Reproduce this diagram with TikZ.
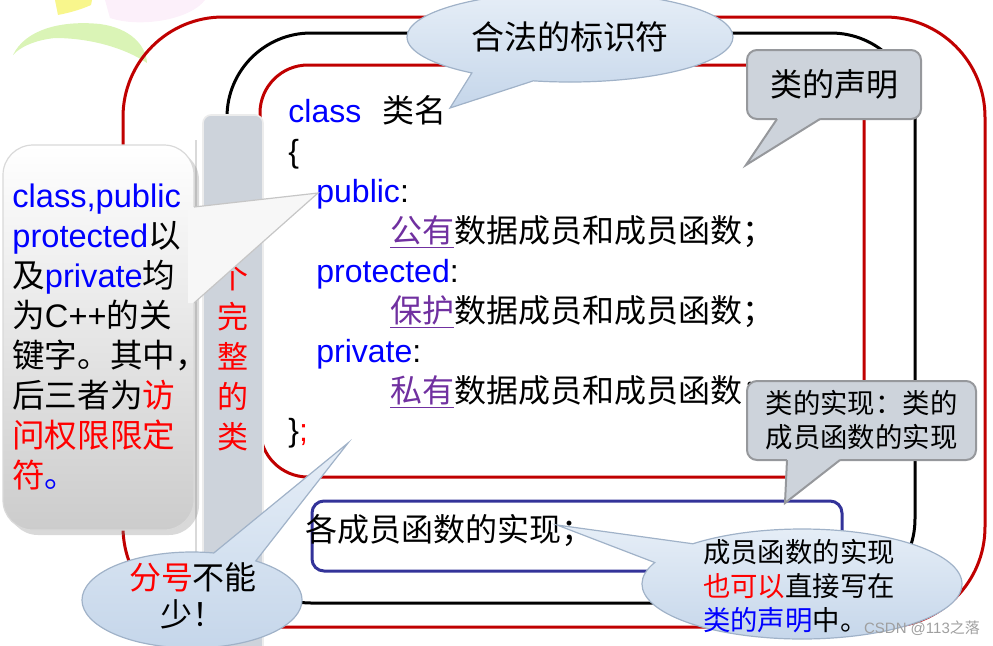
\documentclass[tikz,border=0pt]{standalone}
\usepackage{fontspec}
\setmainfont{Liberation Sans}
\newfontfamily\zhfont{Noto Sans CJK SC}
\usetikzlibrary{shapes.callouts, shadows}
\definecolor{darkred}{RGB}{192,0,0}
\definecolor{navyline}{RGB}{51,51,153}
\definecolor{kwblue}{RGB}{0,0,255}
\definecolor{accred}{RGB}{255,0,0}
\definecolor{purp}{RGB}{112,48,160}
\definecolor{barfill}{RGB}{205,211,219}
\definecolor{tipgray}{RGB}{205,211,219}
\definecolor{tipedge}{RGB}{150,152,156}
\definecolor{bubtop}{RGB}{230,238,247}
\definecolor{bubbot}{RGB}{197,214,234}
\definecolor{bubedge}{RGB}{160,178,200}
\definecolor{leafgreen}{RGB}{218,244,182}
\definecolor{leafyellow}{RGB}{248,246,140}
\definecolor{leafpink}{RGB}{252,240,250}
\newcommand{\zh}[1]{{\zhfont #1}}
\tikzstyle{framepath} = [line width=1.5pt]
\tikzstyle{code} = [anchor=base west, inner sep=0pt, font=\fontsize{16}{20}\selectfont]
\tikzstyle{remark} = [anchor=base west, inner sep=0pt, font=\fontsize{16.3}{20}\selectfont]
\tikzstyle{bubble} = [ellipse callout, draw=bubedge, line width=0.6pt, top color=bubtop, bottom color=bubbot, inner sep=0pt, callout pointer arc=24]
\tikzstyle{graybox} = [draw=tipedge, line width=1pt, fill=tipgray, rounded corners=5pt, inner sep=0pt]
\tikzstyle{tailedge} = [draw=tipedge, line width=1pt]

\begin{document}
\begin{tikzpicture}[x=0.5pt,y=-0.5pt]
\useasboundingbox (0,0) rectangle (993,645);

\fill[leafpink] (105,0) -- (205,0) .. controls (190,20) and (140,28) .. (110,18) -- cycle;
\fill[leafgreen] (13,55) .. controls (25,30) and (60,20) .. (100,24) .. controls (130,28) and (146,45) .. (147,63) .. controls (125,48) and (90,38) .. (55,38) .. controls (35,40) and (20,47) .. (13,55) -- cycle;
\fill[leafyellow] (55,0) -- (92,0) -- (91,5) .. controls (80,10) and (68,13) .. (58,15) -- cycle;

\draw[framepath, darkred, rounded corners=50pt] (123,17) rectangle (985,627);
\draw[framepath, black, rounded corners=42pt] (227,33) rectangle (915,603);
\draw[framepath, darkred, rounded corners=24pt] (795,477) -- (260,477) -- (260,65) -- (864,65) -- (864,400);

\draw[gray!30, line width=0.8pt] (196,140) -- (196,645);
\filldraw[fill=barfill, draw=gray!15, line width=0.8pt, rounded corners=4pt] (203,650) -- (203,115) -- (263,115) -- (263,650);
\node (bartext) [text=accred, align=center, inner sep=0pt, font=\zhfont\fontsize{15.5}{20}\selectfont] at (233,343) {一\\个\\完\\整\\的\\类};

\draw[navyline, line width=1.5pt, rounded corners=6pt] (312,501) rectangle (842,571);

\node (line1) [code] at (288,122) {\textcolor{kwblue}{class}\hspace{10.5pt}\zh{类名}};
\node (line2) [code] at (288,162) {\{};
\node (line3) [code] at (316,202) {\textcolor{kwblue}{public}:};
\node (line4) [code] at (390,242) {\textcolor{purp}{\underline{\zh{公有}}}\zh{数据成员和成员函数；}};
\node (line5) [code] at (316,282) {\textcolor{kwblue}{protected}:};
\node (line6) [code] at (390,322) {\textcolor{purp}{\underline{\zh{保护}}}\zh{数据成员和成员函数；}};
\node (line7) [code] at (316,362) {\textcolor{kwblue}{private}:};
\node (line8) [code] at (390,402) {\textcolor{purp}{\underline{\zh{私有}}}\zh{数据成员和成员函数；}};
\node (line9) [code] at (288,441) {\}\textcolor{accred}{;}};
\node (impl) [code] at (305,541) {\zh{各成员函数的实现；}};

\draw[drop shadow={opacity=0.3, shadow xshift=2.5pt, shadow yshift=-2.5pt}, top color=white, bottom color=gray!40, draw=gray!30, line width=0.6pt, rounded corners=15pt] (3,145) rectangle (194,530);
\coordinate (kwtip) at (318,193);
\fill[white!94!gray] (188,207) -- (194,207) -- (kwtip) -- (194,303) -- (188,303) -- cycle;
\draw[gray!45, line width=0.6pt] (194,207) -- (kwtip) -- (194,303);
\node (k1) [remark] at (12,207) {\textcolor{kwblue}{class,public}};
\node (k2) [remark] at (12,247) {\textcolor{kwblue}{protected}\zh{以}};
\node (k3) [remark] at (12,287) {\zh{及}\textcolor{kwblue}{private}\zh{均}};
\node (k4) [remark] at (12,327) {\zh{为}C++\zh{的关}};
\node (k5) [remark] at (12,367) {\zh{键字。其中，}};
\node (k6) [remark] at (12,407) {\zh{后三者为\textcolor{accred}{访}}};
\node (k7) [remark] at (12,447) {\textcolor{accred}{\zh{问权限限定}}};
\node (k8) [remark] at (12,487) {\textcolor{accred}{\zh{符}}\textcolor{kwblue}{\zh{。}}};

\coordinate (nametip) at (450,108);
\node (legal) [bubble, minimum width=163pt, minimum height=45pt, callout absolute pointer=(nametip), font=\zhfont\fontsize{16.5}{20}\selectfont] at (570,37) {合法的标识符};

\node (decl) [graybox, minimum width=87pt, minimum height=34.5pt, font=\zhfont\fontsize{16}{20}\selectfont] at (834,84.5) {类的声明};
\coordinate (decltip) at (746,165);
\fill[tipgray] (777,115) -- (777,119) -- (decltip) -- (820,119) -- (820,115) -- cycle;
\draw[tailedge] (777,119) -- (decltip) -- (820,119);

\node (implbox) [graybox, minimum width=114.5pt, minimum height=39.5pt, align=left, font=\zhfont\fontsize{13.7}{17}\selectfont] at (861.5,420.5) {类的实现：类的\\成员函数的实现};
\coordinate (impltip) at (785,503);
\fill[tipgray] (787,456) -- (787,460) -- (impltip) -- (840,460) -- (840,456) -- cycle;
\draw[tailedge] (787,460) -- (impltip) -- (840,460);

\coordinate (semitip) at (348,443);
\node (semi) [bubble, minimum width=110pt, minimum height=48pt, callout absolute pointer=(semitip)] at (192,600) {};
\node (semitext) [align=center, inner sep=0pt, font=\zhfont\fontsize{16}{18.5}\selectfont] at (193,596) {\textcolor{accred}{分号}不能\\少！};

\coordinate (impltip2) at (557,525);
\node (inline) [bubble, minimum width=160pt, minimum height=55pt, callout absolute pointer=(impltip2)] at (802,584) {};
\node (inlinetext) [align=left, inner sep=0pt, font=\zhfont\fontsize{13.7}{16.8}\selectfont] at (799,586) {成员函数的实现\\\textcolor{accred}{也可以}直接写在\\\textcolor{kwblue}{类的声明}中。};

\node (mark) [text=gray!75, inner sep=0pt, font=\fontsize{7.5}{9}\selectfont] at (922,628) {CSDN @113\zh{之落}};
\end{tikzpicture}
\end{document}
